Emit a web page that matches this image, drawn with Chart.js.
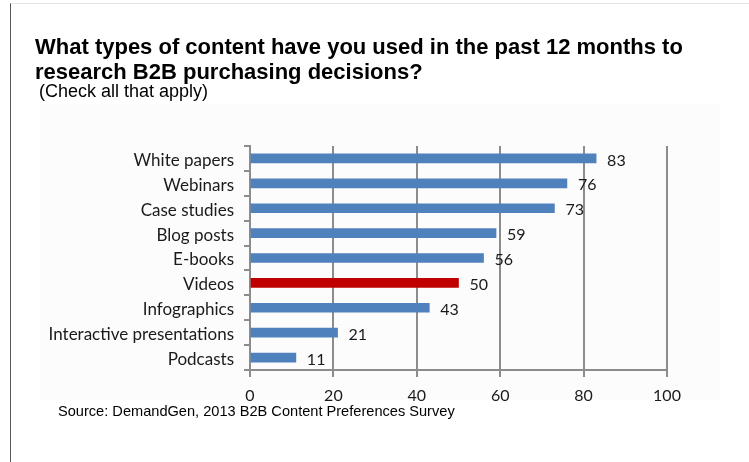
<!DOCTYPE html>
<html>
<head>
<meta charset="utf-8">
<script src="https://cdn.jsdelivr.net/npm/chart.js@4/dist/chart.umd.min.js"></script>
<style>
  html, body { margin: 0; padding: 0; background: #fff; }
  #wrap { position: relative; width: 749px; height: 462px; overflow: hidden; }
  #frame { position: absolute; left: 10px; top: 3px; width: 739px; height: 470px;
    border-left: 1px solid #555; border-top: 1px solid #e4e4e4; }
  #panel { position: absolute; left: 40px; top: 104px; width: 680px; height: 296px; background: #fcfcfc; }
  .t { position: absolute; font-family: "Liberation Sans", Arial, sans-serif; color: #000; white-space: nowrap; }
  #title { left: 35px; top: 34px; font-size: 22px; font-weight: bold; line-height: 25px; }
  #sub { left: 39px; top: 81px; font-size: 18px; }
  #src { left: 58px; top: 403px; font-size: 14.6px; }
  canvas { position: absolute; left: 0; top: 0; }
</style>
</head>
<body>
<div id="wrap">
  <div id="frame"></div>
  <div id="panel"></div>
  <canvas id="c" width="749" height="462"></canvas>
  <div class="t" id="title">What types of content have you used in the past 12 months to<br>research B2B purchasing decisions?</div>
  <div class="t" id="sub">(Check all that apply)</div>
  <div class="t" id="src">Source: DemandGen, 2013 B2B Content Preferences Survey</div>
</div>
<script>
const categories = ['White papers', 'Webinars', 'Case studies', 'Blog posts', 'E-books',
  'Videos', 'Infographics', 'Interactive presentations', 'Podcasts'];
const values = [83, 76, 73, 59, 56, 50, 43, 21, 11];
const highlight = 'Videos';
const xTicks = [0, 20, 40, 60, 80, 100];

const labelFont = '"Lato", "Open Sans", sans-serif';

// value labels to the right of each bar
const valueLabels = {
  id: 'valueLabels',
  afterDatasetsDraw(chart) {
    const ctx = chart.ctx;
    const meta = chart.getDatasetMeta(0);
    ctx.save();
    ctx.font = '16px ' + labelFont;
    ctx.fillStyle = '#1a1a1a';
    ctx.textBaseline = 'middle';
    meta.data.forEach((bar, i) => {
      ctx.fillText(String(values[i]), bar.x + 11, bar.y + 2);
    });
    ctx.restore();
  }
};

new Chart(document.getElementById('c'), {
  type: 'bar',
  data: {
    labels: categories,
    datasets: [{
      data: values,
      backgroundColor: categories.map(c => c === highlight ? '#c00000' : '#4f81bd'),
      barThickness: 9,
      borderWidth: 0
    }]
  },
  options: {
    indexAxis: 'y',
    responsive: false,
    animation: false,
    layout: { padding: { left: 30, right: 82, top: 146, bottom: 52 } },
    plugins: { legend: { display: false }, tooltip: { enabled: false } },
    scales: {
      x: {
        min: 0, max: 100,
        afterBuildTicks: s => { s.ticks = xTicks.map(v => ({ value: v })); },
        afterFit: s => { s.height = 40; },
        grid: { color: '#8c8c8c', lineWidth: 2, tickLength: 7, drawTicks: true },
        border: { display: true, color: '#8c8c8c', width: 2 },
        ticks: { color: '#1a1a1a', font: { family: labelFont, size: 16 }, padding: 9 }
      },
      y: {
        afterFit: s => { s.width = 220; },
        grid: { drawOnChartArea: false, color: '#8c8c8c', lineWidth: 2, tickLength: 6 },
        border: { display: true, color: '#8c8c8c', width: 2 },
        ticks: { color: '#1a1a1a', font: { family: labelFont, size: 17 }, padding: 10, labelOffset: 2 }
      }
    }
  },
  plugins: [valueLabels]
});
</script>
</body>
</html>
